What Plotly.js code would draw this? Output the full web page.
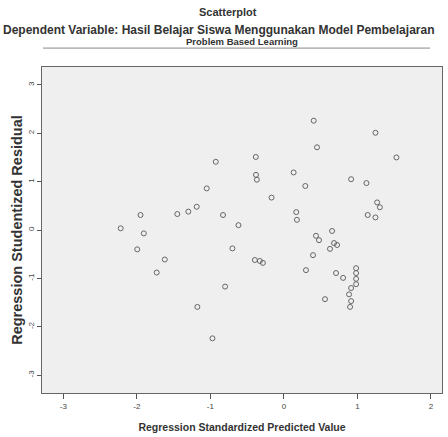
<!DOCTYPE html>
<html>
<head>
<meta charset="utf-8">
<script src="https://cdn.plot.ly/plotly-3.0.1.min.js"></script>
<style>html,body{margin:0;padding:0;background:#fff;}#chart{width:448px;height:437px;}</style>
</head>
<body>
<div id="chart"></div>
<script>
const predicted = [0.405,1.245,0.45,1.53,-0.927,-0.382,-0.38,-0.368,0.132,0.291,0.914,1.122,-1.05,-0.168,-1.186,-1.30,-1.45,-0.828,-1.95,-2.22,-1.905,-0.618,1.268,1.305,1.14,1.245,0.168,0.177,0.436,0.477,0.655,0.682,0.723,0.627,0.396,-0.70,-1.995,-1.62,-1.73,-0.395,-0.327,-0.286,-0.80,-1.177,-0.972,0.30,0.709,0.805,0.982,0.982,0.982,0.982,0.914,0.886,0.914,0.90,0.559];
const residual = [2.26,2.01,1.71,1.50,1.41,1.51,1.14,1.04,1.19,0.91,1.05,0.97,0.86,0.67,0.48,0.38,0.33,0.31,0.31,0.035,-0.07,0.10,0.57,0.47,0.31,0.26,0.37,0.21,-0.12,-0.21,-0.02,-0.27,-0.31,-0.39,-0.52,-0.38,-0.40,-0.61,-0.88,-0.62,-0.64,-0.68,-1.17,-1.59,-2.24,-0.83,-0.89,-0.99,-0.79,-0.89,-1.01,-1.12,-1.20,-1.33,-1.47,-1.59,-1.43];
const xTicks = [-3,-2,-1,0,1,2];
const yTicks = [-3,-2,-1,0,1,2,3];

const fontFam = '"Liberation Sans", Arial, sans-serif';
Plotly.newPlot('chart', [{
  x: predicted, y: residual, type: 'scatter', mode: 'markers',
  marker: {symbol: 'circle-open', size: 5, color: '#666', line: {width: 1, color: '#666'}},
  hoverinfo: 'skip'
}], {
  width: 448, height: 437,
  margin: {l: 42, r: 6, t: 67, b: 44},
  paper_bgcolor: '#ffffff', plot_bgcolor: '#efefef',
  showlegend: false,
  font: {family: fontFam, color: '#333', size: 8},
  xaxis: {range: [-3.29, 2.15], tickvals: xTicks, ticktext: xTicks.map(String),
    ticks: 'outside', ticklen: 5, tickcolor: '#555', showgrid: false, zeroline: false,
    showline: true, linecolor: '#666', mirror: true, tickfont: {size: 8, color: '#444'},
    title: {text: '<b>Regression Standardized Predicted Value</b>', font: {size: 10.5, color: '#333'}, standoff: 14}},
  yaxis: {range: [-3.37, 3.37], tickvals: yTicks, ticktext: yTicks.map(String),
    ticks: 'outside', ticklen: 4, tickcolor: '#555', showgrid: false, zeroline: false,
    showline: true, linecolor: '#666', mirror: true, tickangle: -90, tickfont: {size: 8, color: '#444'},
    title: {text: '<b>Regression Studentized Residual</b>', font: {size: 14.5, color: '#333'}, standoff: 0}},
  annotations: [
    {text: '<b>Scatterplot</b>', xref: 'paper', yref: 'paper', x: 0.465, y: 1, yshift: 55, xanchor: 'center', yanchor: 'middle', showarrow: false, font: {size: 11, color: '#333'}},
    {text: '<b>Dependent Variable: Hasil Belajar Siswa Menggunakan Model Pembelajaran</b>', xref: 'paper', x: 0.44, y: 1, yref: 'paper', yshift: 37, xanchor: 'center', yanchor: 'middle', showarrow: false, font: {size: 12, color: '#333'}},
    {text: '<b>Problem Based Learning</b>', xref: 'paper', x: 0.5, y: 1, yref: 'paper', yshift: 26, xanchor: 'center', yanchor: 'middle', showarrow: false, font: {size: 9.5, color: '#333'}}
  ],
  shapes: [
    {type: 'line', xref: 'paper', yref: 'paper', x0: 0.0025, x1: 0.97, y0: 1.058, y1: 1.058, line: {color: '#888', width: 1}}
  ]
}, {staticPlot: true});
</script>
</body>
</html>
